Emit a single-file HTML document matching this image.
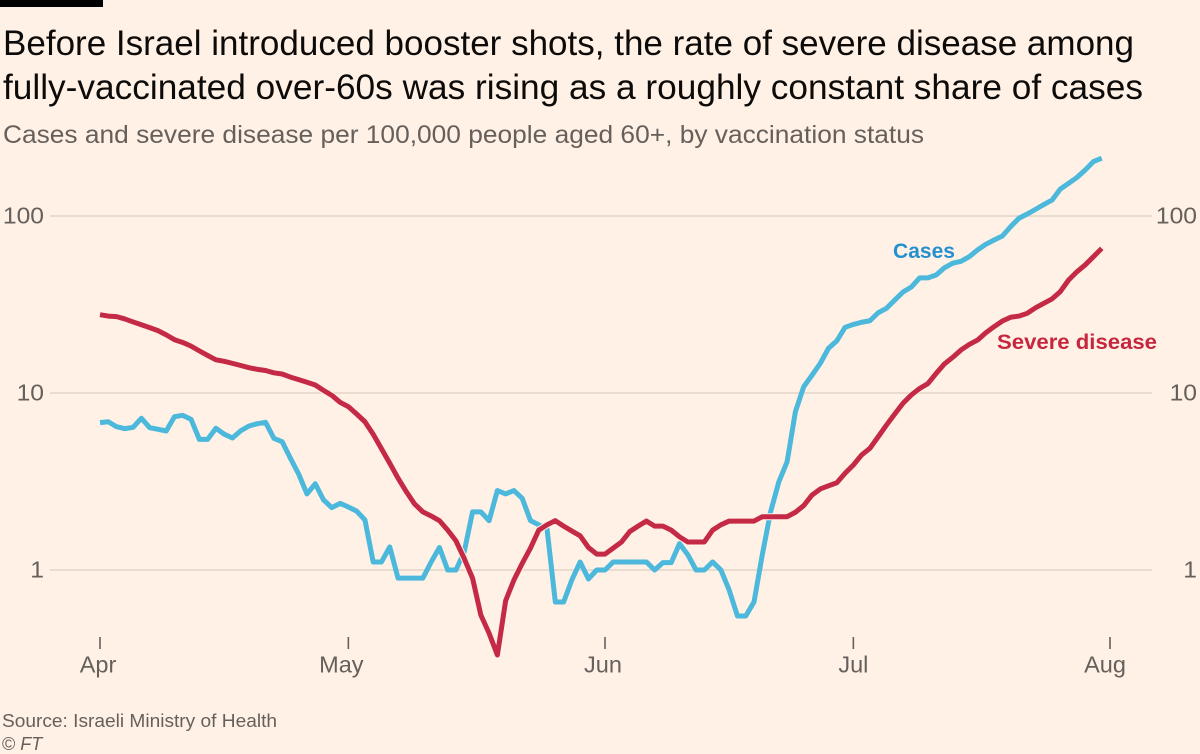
<!DOCTYPE html>
<html lang="en">
<head>
<meta charset="utf-8">
<title>Before Israel introduced booster shots</title>
<style>
  html, body { margin: 0; padding: 0; background: #fff1e5; }
  body { width: 1200px; height: 754px; overflow: hidden; }
  svg { display: block; font-family: "Liberation Sans", sans-serif; }
</style>
</head>
<body>
<svg id="chart" width="1200" height="754" viewBox="0 0 1200 754">
  <rect x="0" y="0" width="1200" height="754" fill="#fff1e5"/>
  <rect x="0" y="0" width="103" height="7" fill="#000"/>
  <text x="3" y="55" font-size="35" fill="#0d0b0a" textLength="1131" lengthAdjust="spacingAndGlyphs">Before Israel introduced booster shots, the rate of severe disease among</text>
  <text x="3" y="99" font-size="35" fill="#0d0b0a" textLength="1140" lengthAdjust="spacingAndGlyphs">fully-vaccinated over-60s was rising as a roughly constant share of cases</text>
  <text x="3" y="143" font-size="25" fill="#66605c" textLength="921" lengthAdjust="spacingAndGlyphs">Cases and severe disease per 100,000 people aged 60+, by vaccination status</text>
  <g id="grid"></g>
  <g id="yLabels"></g>
  <g id="xAxis"></g>
  <g id="series"></g>
  <text x="893" y="258" font-size="21.5" font-weight="700" fill="#2590cf" textLength="62" lengthAdjust="spacingAndGlyphs">Cases</text>
  <text x="997" y="349" font-size="21.5" font-weight="700" fill="#c7263f" textLength="160" lengthAdjust="spacingAndGlyphs">Severe disease</text>
  <text x="2" y="727" font-size="18" fill="#66605c" textLength="275" lengthAdjust="spacingAndGlyphs">Source: Israeli Ministry of Health</text>
  <text x="2" y="750" font-size="18" fill="#66605c">© <tspan font-style="italic">FT</tspan></text>
</svg>
<script>
// Day index 0 = 1 April; one reading per day.
const cases = [
  6.80,6.88,6.45,6.29,6.40,7.20,6.37,6.24,6.10,7.35,7.48,7.10,5.47,5.47,6.32,5.85,5.57,6.12,6.51,6.71,
  6.83,5.55,5.31,4.28,3.48,2.69,3.07,2.49,2.25,2.38,2.27,2.15,1.92,1.11,1.11,1.35,0.90,0.90,0.90,0.90,
  1.11,1.34,1.00,1.00,1.27,2.13,2.13,1.90,2.81,2.69,2.81,2.54,1.90,1.80,1.70,0.66,0.66,0.88,1.11,0.89,
  1.00,1.00,1.11,1.11,1.11,1.11,1.11,1.00,1.10,1.10,1.41,1.22,1.00,1.00,1.11,1.00,0.77,0.55,0.55,0.66,
  1.22,2.13,3.15,4.09,7.84,10.85,12.6,14.7,17.9,19.7,23.5,24.4,25.1,25.6,28.4,30.1,33.5,37.2,39.7,44.7,
  44.7,46.4,51.0,54.1,55.5,58.9,64.3,69.2,73.2,77.1,87.1,97.1,102.6,109,116,123,142,153,165,182,
  203,212
];
const severeDisease = [
  27.7,27.2,27.0,26.2,25.2,24.3,23.4,22.5,21.3,20.0,19.3,18.4,17.3,16.3,15.4,15.1,14.7,14.3,13.9,13.6,
  13.4,13.0,12.8,12.3,11.9,11.5,11.1,10.35,9.70,8.86,8.37,7.61,6.88,5.85,4.84,4.01,3.30,2.77,2.36,2.13,
  2.02,1.90,1.68,1.46,1.16,0.90,0.557,0.439,0.331,0.671,0.878,1.09,1.33,1.68,1.80,1.90,1.77,1.66,1.56,1.34,
  1.23,1.23,1.33,1.44,1.65,1.77,1.89,1.77,1.77,1.68,1.54,1.44,1.44,1.44,1.68,1.80,1.89,1.89,1.89,1.89,
  2.00,2.00,2.00,2.00,2.12,2.31,2.65,2.87,2.99,3.11,3.52,3.92,4.47,4.87,5.66,6.59,7.61,8.75,9.75,10.6,
  11.3,12.9,14.6,15.9,17.5,18.8,19.9,21.9,23.7,25.5,26.8,27.2,28.2,30.3,32.1,34.0,37.4,43.5,48.4,52.9,
  58.9,65.6
];
const yTickValues = [100, 10, 1];
const xTickDays = [0, 30, 61, 91, 122];
const xTickLabels = ["Apr", "May", "Jun", "Jul", "Aug"];

const SVG_NS = "http://www.w3.org/2000/svg";
const X0 = 100, X1 = 1110, DAY_SPAN = 122;
const Y_ONE = 570, PX_PER_DECADE = 177;

function xScale(day) {
  return X0 + day * (X1 - X0) / DAY_SPAN;
}
function yScale(value) {
  return Y_ONE - Math.log10(value) * PX_PER_DECADE;
}
function make(tag, attrs, parent) {
  const el = document.createElementNS(SVG_NS, tag);
  for (const k in attrs) el.setAttribute(k, attrs[k]);
  parent.appendChild(el);
  return el;
}
function pathFrom(values) {
  return values.map((v, i) => (i ? "L" : "M") + xScale(i).toFixed(2) + " " + yScale(v).toFixed(2)).join(" ");
}
// The source placement keeps month labels inside the plot, slightly left of their ticks.
function labelShift(label) {
  if (label === "May") return -7;
  if (label === "Aug") return -5;
  if (label === "Jul") return 0;
  return -2;
}

const grid = document.getElementById("grid");
const yLabels = document.getElementById("yLabels");
yTickValues.forEach(function (v) {
  const y = yScale(v);
  const w = String(v).length * 13.7;
  const line = make("line", { x1: 50, x2: 1152, y1: y, y2: y, stroke: "#e9dccf", "stroke-width": 2 }, grid);
  
  

  const left = make("text", { x: 44, y: y + 7.5, "font-size": 23, fill: "#66605c", "text-anchor": "end", textLength: w, lengthAdjust: "spacingAndGlyphs" }, yLabels);
  left.textContent = v;
  
  

  const right = make("text", { x: 1197, y: y + 7.5, "font-size": 23, fill: "#66605c", "text-anchor": "end", textLength: w, lengthAdjust: "spacingAndGlyphs" }, yLabels);
  right.textContent = v;
  
  
});

const xAxis = document.getElementById("xAxis");
xTickDays.forEach(function (d, i) {
  const x = xScale(d);
  const tick = make("line", { x1: x, x2: x, y1: 637, y2: 649, stroke: "#66605c", "stroke-width": 1.6 }, xAxis);
  
  

  const label = make("text", { x: x + labelShift(xTickLabels[i]), y: 672.5, "font-size": 23.5, fill: "#66605c", "text-anchor": "middle" }, xAxis);
  label.textContent = xTickLabels[i];
  
  
});

const series = document.getElementById("series");
const casesLine = make("path", { d: pathFrom(cases), fill: "none", stroke: "#4bb8dc", "stroke-width": 5, "stroke-linejoin": "round" }, series);



const severeHalo = make("path", { d: pathFrom(severeDisease), fill: "none", stroke: "#fff1e5", "stroke-width": 7, "stroke-linejoin": "round" }, series);



const severeLine = make("path", { d: pathFrom(severeDisease), fill: "none", stroke: "#c42a46", "stroke-width": 5, "stroke-linejoin": "round" }, series);


</script>
</body>
</html>
